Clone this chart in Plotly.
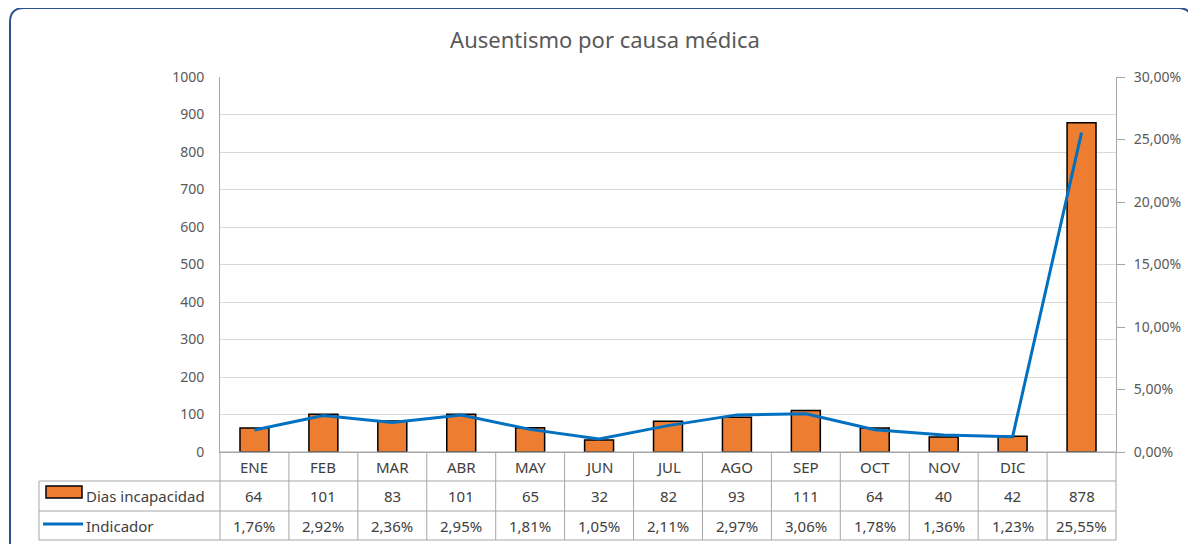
import plotly.graph_objects as go

categories = ["ENE", "FEB", "MAR", "ABR", "MAY", "JUN", "JUL", "AGO", "SEP", "OCT", "NOV", "DIC", ""]
dias_incapacidad = [64, 101, 83, 101, 65, 32, 82, 93, 111, 64, 40, 42, 878]
indicador = [1.76, 2.92, 2.36, 2.95, 1.81, 1.05, 2.11, 2.97, 3.06, 1.78, 1.36, 1.23, 25.55]  # percent
series_names = ["Dias incapacidad", "Indicador"]
title_text = "Ausentismo por causa médica"

# page offset of the figure (browser body margin)
OFF = 8
W, H = 1196 - OFF, 544 - OFF
# plot area in screen pixels
PX0, PX1, PY0, PY1 = 220, 1116, 77, 452
ML, MR, MT, MB = PX0 - OFF, W - (PX1 - OFF), PY0 - OFF, H - (PY1 - OFF)
PW, PH = PX1 - PX0, PY1 - PY0
n = len(categories)

def px_x(px):
    return (px - PX0) / PW

def px_y(py):
    return (PY1 - py) / PH

TXT = "#595959"
GRID = "#D9D9D9"
TBL = "#A6A6A6"
FONT = "Noto Sans"
BAR_C = "#ED7D31"
LINE_C = "#0070C0"

x_idx = list(range(n))
fig = go.Figure()
fig.add_trace(go.Bar(x=x_idx, y=dias_incapacidad, name=series_names[0],
                     marker=dict(color=BAR_C, line=dict(color="#000000", width=1.5))))
fig.add_trace(go.Scatter(x=x_idx, y=[v / 100 for v in indicador], name=series_names[1], yaxis="y2",
                         mode="lines", line=dict(color=LINE_C, width=3)))

shapes = []
# table geometry (screen pixels)
y_top, y_r1, y_r2, y_bot = 452, 481, 511, 540
x_leg = 39
def hline(py, x0px, x1px):
    shapes.append(dict(type="line", xref="paper", yref="paper", x0=px_x(x0px), x1=px_x(x1px),
                       y0=px_y(py), y1=px_y(py), line=dict(color=TBL, width=1)))
def vline_paper(xp, py0, py1):
    shapes.append(dict(type="line", xref="paper", yref="paper", x0=xp, x1=xp,
                       y0=px_y(py0), y1=px_y(py1), line=dict(color=TBL, width=1)))

hline(y_r1, x_leg, PX1)
hline(y_r2, x_leg, PX1)
hline(y_bot, x_leg, PX1)
hline(y_top, PX0, PX1)
for i in range(n + 1):
    vline_paper(i / n, y_top, y_bot)
vline_paper(px_x(x_leg), y_r1, y_bot)

# legend keys in table
shapes.append(dict(type="rect", xref="paper", yref="paper", x0=px_x(46), x1=px_x(82),
                   y0=px_y(498), y1=px_y(486), fillcolor=BAR_C, line=dict(color="#000000", width=1.5)))
shapes.append(dict(type="line", xref="paper", yref="paper", x0=px_x(43), x1=px_x(83),
                   y0=px_y(524), y1=px_y(524), line=dict(color=LINE_C, width=3)))

# outer rounded frame
fx0, fy0, fx1, fy1, r = 10, 8, 1192, 560, 14
path = (f"M {px_x(fx0)},{px_y(fy0 + r)} "
        f"Q {px_x(fx0)},{px_y(fy0)} {px_x(fx0 + r)},{px_y(fy0)} "
        f"L {px_x(fx1 - r)},{px_y(fy0)} "
        f"Q {px_x(fx1)},{px_y(fy0)} {px_x(fx1)},{px_y(fy0 + r)} "
        f"L {px_x(fx1)},{px_y(fy1 - r)} "
        f"Q {px_x(fx1)},{px_y(fy1)} {px_x(fx1 - r)},{px_y(fy1)} "
        f"L {px_x(fx0 + r)},{px_y(fy1)} "
        f"Q {px_x(fx0)},{px_y(fy1)} {px_x(fx0)},{px_y(fy1 - r)} Z")
shapes.append(dict(type="path", xref="paper", yref="paper", path=path,
                   line=dict(color="#2F528F", width=2)))

annotations = []
def ann(x, xref, py, text, xanchor="center"):
    annotations.append(dict(x=x, xref=xref, y=px_y(py), yref="paper", text=text, showarrow=False,
                            xanchor=xanchor, yanchor="middle", font=dict(family=FONT, size=15, color="#404040")))

def fmt_pct(v):
    return f"{v:.2f}".replace(".", ",") + "%"

for i in range(n):
    ann(i, "x", (y_top + y_r1) / 2, categories[i])
    ann(i, "x", (y_r1 + y_r2) / 2, str(dias_incapacidad[i]))
    ann(i, "x", (y_r2 + y_bot) / 2, fmt_pct(indicador[i]))
ann(px_x(84), "paper", (y_r1 + y_r2) / 2, series_names[0], "left")
ann(px_x(84), "paper", (y_r2 + y_bot) / 2, series_names[1], "left")

fig.update_layout(
    width=W, height=H,
    margin=dict(l=ML, r=MR, t=MT, b=MB),
    paper_bgcolor="white", plot_bgcolor="white",
    separators=",.",
    showlegend=False,
    bargap=0.58,
    font=dict(family=FONT, color=TXT),
    title=dict(text=title_text, x=(605 - OFF) / W, xref="container", xanchor="center",
               y=1 - (40 - OFF) / H, yref="container", yanchor="middle",
               font=dict(family=FONT, size=22, color=TXT)),
    xaxis=dict(range=[-0.5, n - 0.5], showticklabels=False, showgrid=False, zeroline=False,
               showline=True, linecolor=TBL, linewidth=1, fixedrange=True),
    yaxis=dict(range=[0, 1000], dtick=100, showgrid=True, gridcolor=GRID, zeroline=False,
               showline=True, linecolor=TBL, linewidth=1, ticks="", ticklabelstandoff=12,
               tickfont=dict(family=FONT, size=14, color=TXT)),
    yaxis2=dict(range=[0, 0.30], dtick=0.05, tickformat=".2%", overlaying="y", side="right",
                showgrid=False, zeroline=False, showline=True, linecolor=TBL, linewidth=1,
                ticks="outside", ticklen=8, tickcolor=TBL, ticklabelstandoff=6,
                tickfont=dict(family=FONT, size=14, color=TXT)),
    shapes=shapes,
    annotations=annotations,
)

fig.write_html("out.html")
